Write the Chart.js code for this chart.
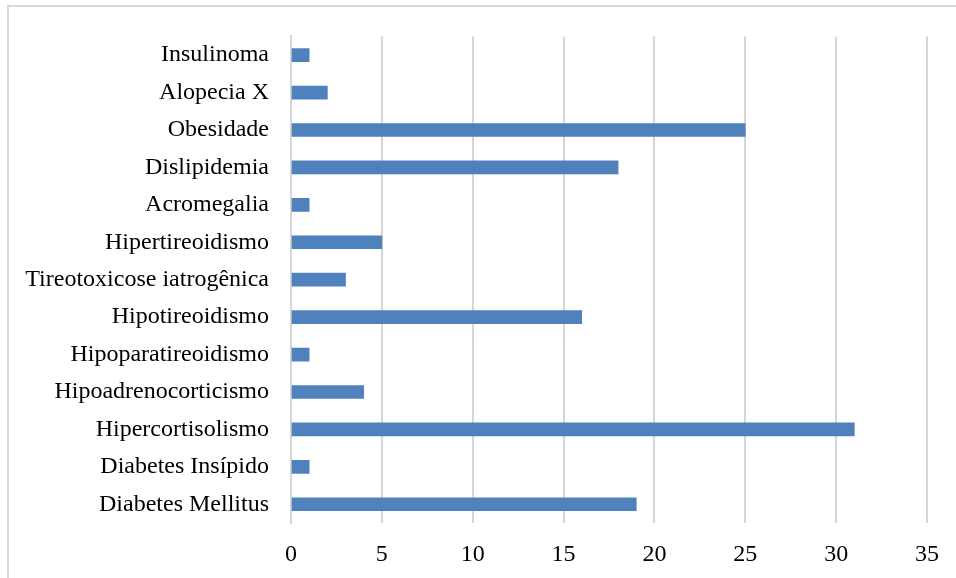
<!DOCTYPE html>
<html>
<head>
<meta charset="utf-8">
<script src="https://cdn.jsdelivr.net/npm/chart.js@4/dist/chart.umd.min.js"></script>
<style>
  html, body { margin: 0; padding: 0; background: #ffffff; overflow: hidden; }
  #wrap { position: relative; width: 956px; height: 578px; }
  #frame { position: absolute; left: 7px; top: 5px; width: 1000px; height: 620px;
           border: 2px solid #d9d9d9; box-sizing: border-box; }
  canvas { position: absolute; left: 0; top: 0; }
</style>
</head>
<body>
<div id="wrap">
  <div id="frame"></div>
  <canvas id="c" width="956" height="578"></canvas>
</div>
<script>
// Endocrine conditions and number of cases
const categories = [
  'Insulinoma', 'Alopecia X', 'Obesidade', 'Dislipidemia', 'Acromegalia',
  'Hipertireoidismo', 'Tireotoxicose iatrogênica', 'Hipotireoidismo',
  'Hipoparatireoidismo', 'Hipoadrenocorticismo', 'Hipercortisolismo',
  'Diabetes Insípido', 'Diabetes Mellitus'
];
const cases = [1, 2, 25, 18, 1, 5, 3, 16, 1, 4, 31, 1, 19];
const xMin = 0, xMax = 35, xStep = 5;

const fontSpec = { family: '"Liberation Serif", "Times New Roman", serif', size: 24 };

new Chart(document.getElementById('c'), {
  type: 'bar',
  data: {
    labels: categories,
    datasets: [{
      data: cases,
      backgroundColor: '#4f81bd',
      borderWidth: 0,
      barThickness: 13
    }]
  },
  options: {
    indexAxis: 'y',
    responsive: false,
    animation: false,
    layout: { padding: { top: 35, right: 29, left: 0, bottom: 0 } },
    plugins: { legend: { display: false }, tooltip: { enabled: false } },
    scales: {
      x: {
        min: xMin, max: xMax,
        ticks: { stepSize: xStep, color: '#000000', font: fontSpec, padding: 17 },
        grid: { color: '#d6d6d6', lineWidth: 2, drawTicks: false },
        border: { display: false },
        afterFit: s => { s.height = 55; }
      },
      y: {
        ticks: { color: '#000000', font: fontSpec, padding: 22, autoSkip: false },
        grid: { display: false, drawTicks: false },
        border: { display: true, color: '#d6d6d6', width: 2 },
        afterFit: s => { s.width = 291; }
      }
    }
  }
});
</script>
</body>
</html>
